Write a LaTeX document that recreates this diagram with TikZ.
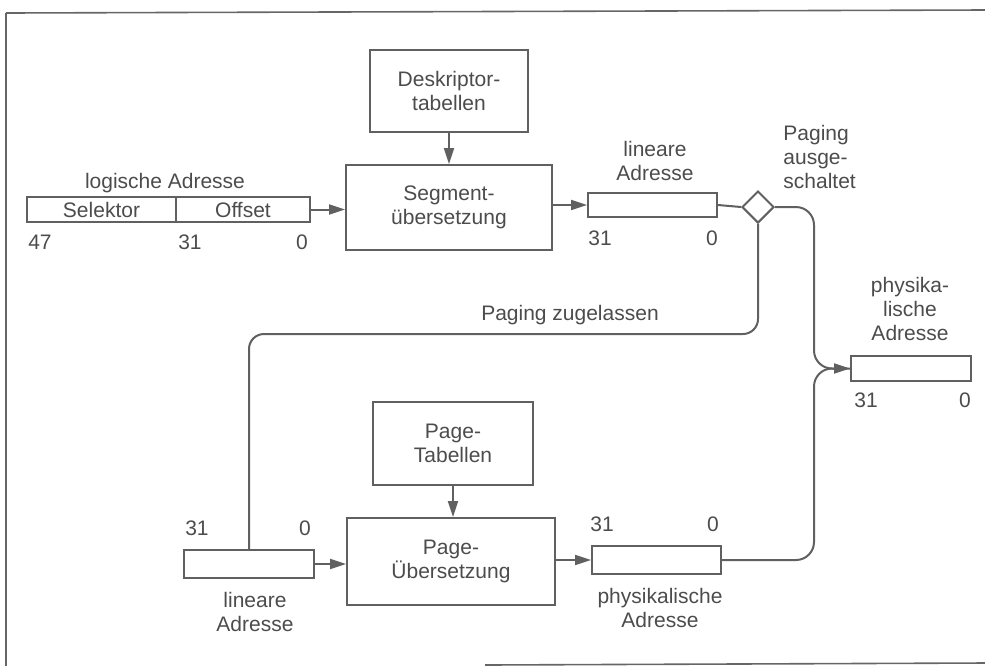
\documentclass[tikz,border=0pt]{standalone}
\usepackage{fontspec}
\setmainfont{Liberation Sans}
\usetikzlibrary{arrows.meta,shapes.geometric}

\tikzset{
  box/.style={draw=gray!75!black,line width=1pt,fill=white,align=center,inner sep=0pt},
  reg/.style={box,minimum height=12.5pt},
  conn/.style={draw=gray!75!black,line width=1pt},
  lbl/.style={text=black!70,align=center,inner sep=0pt},
}

\begin{document}
\begin{tikzpicture}[x=0.5pt,y=-0.5pt,>={Triangle[length=8pt,width=5pt]},
  font=\fontsize{10.5}{11.8}\selectfont,text=black!70]
  \useasboundingbox (0,0) rectangle (985,666);
  % Rahmen
  \draw[gray!80!black,line width=0.8pt] (6,13) -- (985,10);
  \draw[gray!80!black,line width=0.8pt] (6,13) -- (6,666);
  \draw[gray!80!black,line width=0.8pt] (485,665) -- (985,663);

  % Segmentierung
  \node[box,minimum width=79pt,minimum height=41pt] (desk) at (449,91) {Deskriptor-\\tabellen};
  \node[box,minimum width=103pt,minimum height=42.5pt] (seg) at (449,207.5) {Segment-\\übersetzung};
  \node[reg,minimum width=74.5pt] (sel) at (101.5,209.5) {Selektor};
  \node[reg,minimum width=67pt] (off) at (243,209.5) {Offset};
  \node[reg,minimum width=64.5pt,minimum height=12pt] (lin1) at (652.5,205) {};
  \node[box,diamond,minimum size=16pt] (dia) at (758,207) {};
  \node[reg,minimum width=60pt] (phys1) at (911,368.5) {};

  % Paging
  \node[box,minimum width=80pt,minimum height=41.5pt] (ptab) at (453,443.5) {Page-\\Tabellen};
  \node[box,minimum width=104pt,minimum height=43.5pt] (pue) at (451,561.5) {Page-\\Übersetzung};
  \node[reg,minimum width=65pt,minimum height=14pt] (lin2) at (249,564) {};
  \node[reg,minimum width=64.5pt,minimum height=14pt] (phys2) at (656.5,560) {};

  % Beschriftungen
  \node[lbl] (llog) at (165,183) {logische Adresse};
  \node[lbl] (llin1) at (655,161) {lineare\\Adresse};
  \node[lbl,align=left,anchor=west] (laus) at (783,157) {Paging\\ausge-\\schaltet};
  \node[lbl] (lzug) at (570,315) {Paging zugelassen};
  \node[lbl] (lphys1) at (910,309) {physika-\\lische\\Adresse};
  \node[lbl] (llin2) at (255,612) {lineare\\Adresse};
  \node[lbl] (lphys2) at (660,608) {physikalische\\Adresse};

  % Bitnummern
  \foreach \x/\y/\n/\b in {40/242/47/a, 190/242/31/b, 302/242/0/c,
                           600/238/31/d, 712/238/0/e,
                           866/400/31/f, 965/400/0/g,
                           197/528/31/h, 305/528/0/i,
                           602/524/31/j, 713/524/0/k}
    \node[lbl] (bit\b) at (\x,\y) {\n};

  % Verbindungen
  \draw[conn,->] (desk) -- (desk |- seg.north);
  \draw[conn,->] (off.east) -- (seg.west |- off.east);
  \draw[conn,->] (seg.east |- lin1.west) -- (lin1.west);
  \draw[conn] (lin1.east) -- (dia.west);
  \draw[conn,->] (ptab) -- (ptab |- pue.north);
  \draw[conn,->] (lin2.east) -- (pue.west |- lin2.east);
  \draw[conn,->] (pue.east |- phys2.west) -- (phys2.west);

  \coordinate (mrg) at ([xshift=-18pt]phys1.west);
  \draw[conn,rounded corners=7.5pt] (dia.south) -- ++(0,110) -| (lin2.north);
  \draw[conn,->,rounded corners=9pt] (dia.east) -| (mrg) -- (phys1.west);
  \draw[conn,rounded corners=9pt] (phys2.east) -| (mrg) -- (phys1.west);
\end{tikzpicture}
\end{document}
